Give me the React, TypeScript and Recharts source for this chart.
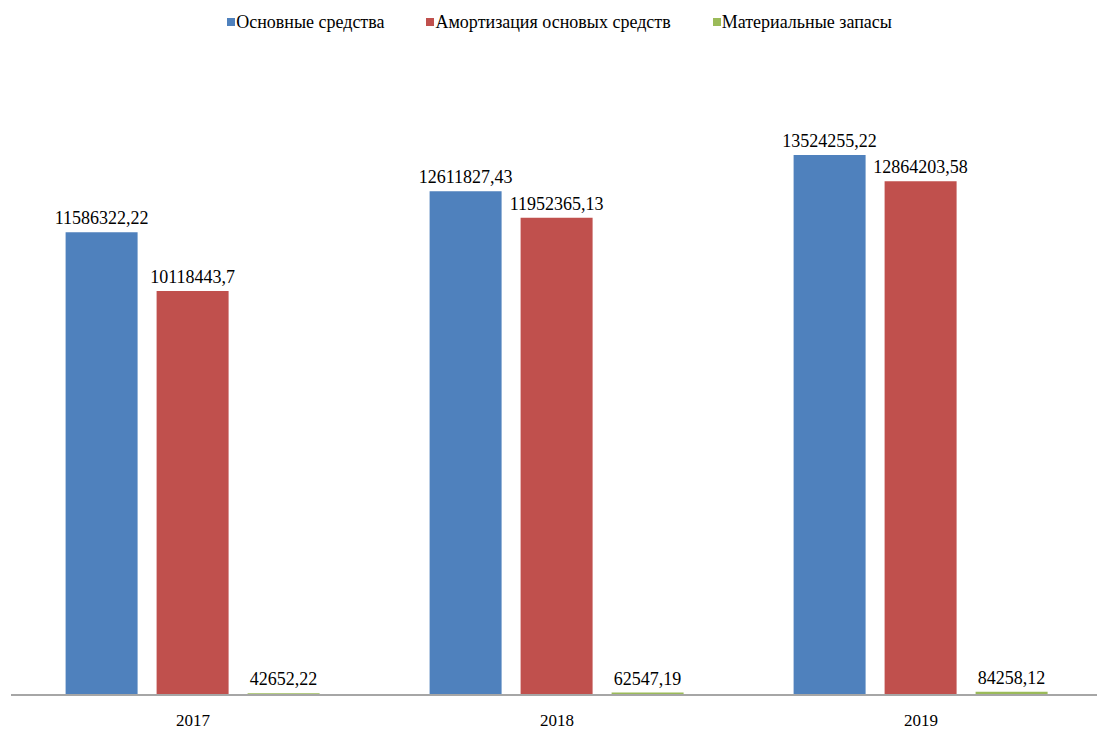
import { BarChart, Bar, XAxis, YAxis, LabelList, Legend } from 'recharts';

const years = ['2017', '2018', '2019'];
const fixedAssets = [11586322.22, 12611827.43, 13524255.22];
const depreciation = [10118443.7, 11952365.13, 12864203.58];
const inventories = [42652.22, 62547.19, 84258.12];

const seriesNames = ['Основные средства', 'Амортизация основых средств', 'Материальные запасы'];
const colors = ['#4f81bd', '#c0504d', '#9bbb59'];

const data = years.map((year, i) => ({
  year,
  a: fixedAssets[i],
  b: depreciation[i],
  c: inventories[i],
}));

const font = 'Liberation Serif, Times New Roman, serif';

const fmt = (v: any) => String(v).replace('.', ',');

const LegendContent = () => (
  <div style={{ display: 'flex', justifyContent: 'center', fontFamily: font, fontSize: 18, color: '#000', lineHeight: '20px' }}>
    {seriesNames.map((name, i) => (
      <div key={name} style={{ display: 'flex', alignItems: 'center', marginRight: i < 2 ? 42 : 0 }}>
        <span style={{ width: 8, height: 8, background: colors[i], display: 'inline-block', marginRight: 1 }} />
        <span>{name}</span>
      </div>
    ))}
  </div>
);

const YearTick = ({ x, y, payload }: any) => (
  <text x={x} y={y + 23} textAnchor="middle" fontFamily={font} fontSize={17} fill="#000">
    {payload.value}
  </text>
);

export default function App() {
  return (
    <div style={{ position: 'absolute', left: 0, top: 0, width: 1110, height: 733, background: '#fff' }}>
      <BarChart
        width={1110}
        height={733}
        data={data}
        margin={{ top: 36, right: 7, bottom: 0, left: 11 }}
        barCategoryGap="15%"
        barGap={19}
      >
        <Legend
          verticalAlign="top"
          content={<LegendContent />}
          wrapperStyle={{ top: 12, left: 0, width: 1119 }}
        />
        <XAxis
          dataKey="year"
          axisLine={{ stroke: '#a6a6a6', strokeWidth: 2 }}
          tickLine={false}
          tick={<YearTick />}
          height={38}
        />
        <YAxis hide domain={[0, 16000000]} />
        <Bar dataKey="a" name={seriesNames[0]} fill={colors[0]} isAnimationActive={false}>
          <LabelList dataKey="a" position="top" offset={8} formatter={fmt} fontFamily={font} fontSize={18} fill="#000" />
        </Bar>
        <Bar dataKey="b" name={seriesNames[1]} fill={colors[1]} isAnimationActive={false}>
          <LabelList dataKey="b" position="top" offset={8} formatter={fmt} fontFamily={font} fontSize={18} fill="#000" />
        </Bar>
        <Bar dataKey="c" name={seriesNames[2]} fill={colors[2]} isAnimationActive={false}>
          <LabelList dataKey="c" position="top" offset={8} formatter={fmt} fontFamily={font} fontSize={18} fill="#000" />
        </Bar>
      </BarChart>
    </div>
  );
}
